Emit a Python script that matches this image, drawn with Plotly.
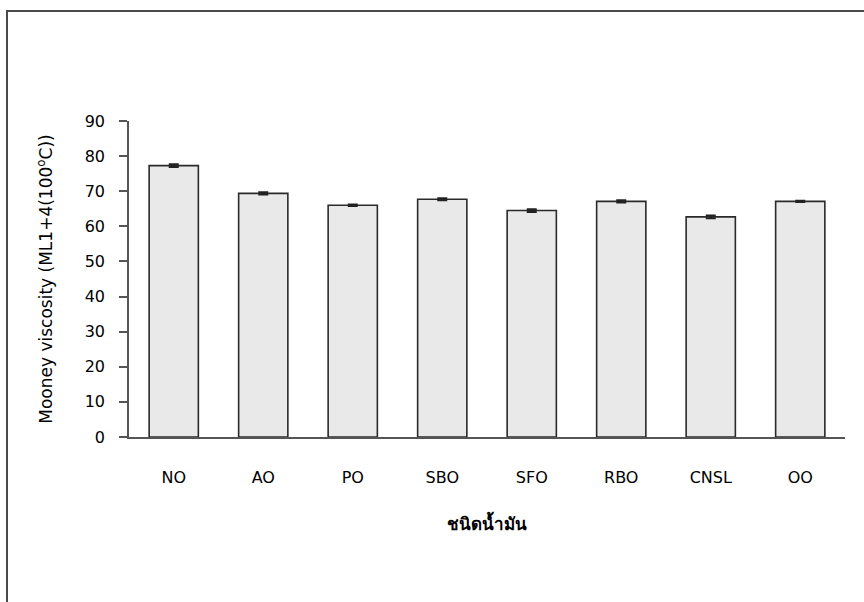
import plotly.graph_objects as go

categories = ["NO", "AO", "PO", "SBO", "SFO", "RBO", "CNSL", "OO"]
viscosity = [77.3, 69.4, 66.0, 67.7, 64.5, 67.1, 62.7, 67.1]
errors = [0.4, 0.3, 0.2, 0.3, 0.4, 0.3, 0.4, 0.2]
y_ticks = [0, 10, 20, 30, 40, 50, 60, 70, 80, 90]

W, H = 864, 602
ml, mr, mt, mb = 129, 19, 121, 165
pw, ph = W - ml - mr, H - mt - mb

fig = go.Figure()
fig.add_trace(go.Bar(
    x=categories, y=viscosity,
    marker=dict(color="#e9e9e9", line=dict(color="#2a2a2a", width=1.6)),
    error_y=dict(type="data", array=errors, visible=True, color="#222222",
                 thickness=2, width=5),
    width=0.55,
))

# outer frame (in paper coordinates)
x0 = (7 - ml) / pw
y1 = 1 + (mt - 11) / ph
fig.add_shape(type="rect", xref="paper", yref="paper",
              x0=x0, x1=1 + (W + 10 - ml - pw) / pw,
              y0=-(H + 10 - (H - mb)) / ph, y1=y1,
              line=dict(color="#4a4a4a", width=2), fillcolor="rgba(0,0,0,0)")

fig.update_layout(
    width=W, height=H,
    margin=dict(l=ml, r=mr, t=mt, b=mb),
    paper_bgcolor="white", plot_bgcolor="white",
    showlegend=False,
    font=dict(family="DejaVu Sans, Noto Sans", size=16, color="black"),
)
fig.update_xaxes(
    showline=True, linecolor="#555555", linewidth=1.5,
    ticks="", showgrid=False,
    tickfont=dict(size=16),
    ticklabelstandoff=25,
    title=dict(text="<b>ชนิดน้ำมัน</b>", font=dict(size=17), standoff=32),
    range=[-0.5, 7.5],
)
fig.update_yaxes(
    range=[0, 90], tickvals=y_ticks,
    showline=True, linecolor="#555555", linewidth=1.5,
    ticks="outside", ticklen=8, tickcolor="#555555", tickwidth=1.5,
    showgrid=False, zeroline=False,
    tickfont=dict(size=16),
    ticklabelstandoff=11,
    title=dict(text="Mooney viscosity (ML1+4(100<sup>o</sup>C))", font=dict(size=17), standoff=28),
)

fig.write_html("out.html")
